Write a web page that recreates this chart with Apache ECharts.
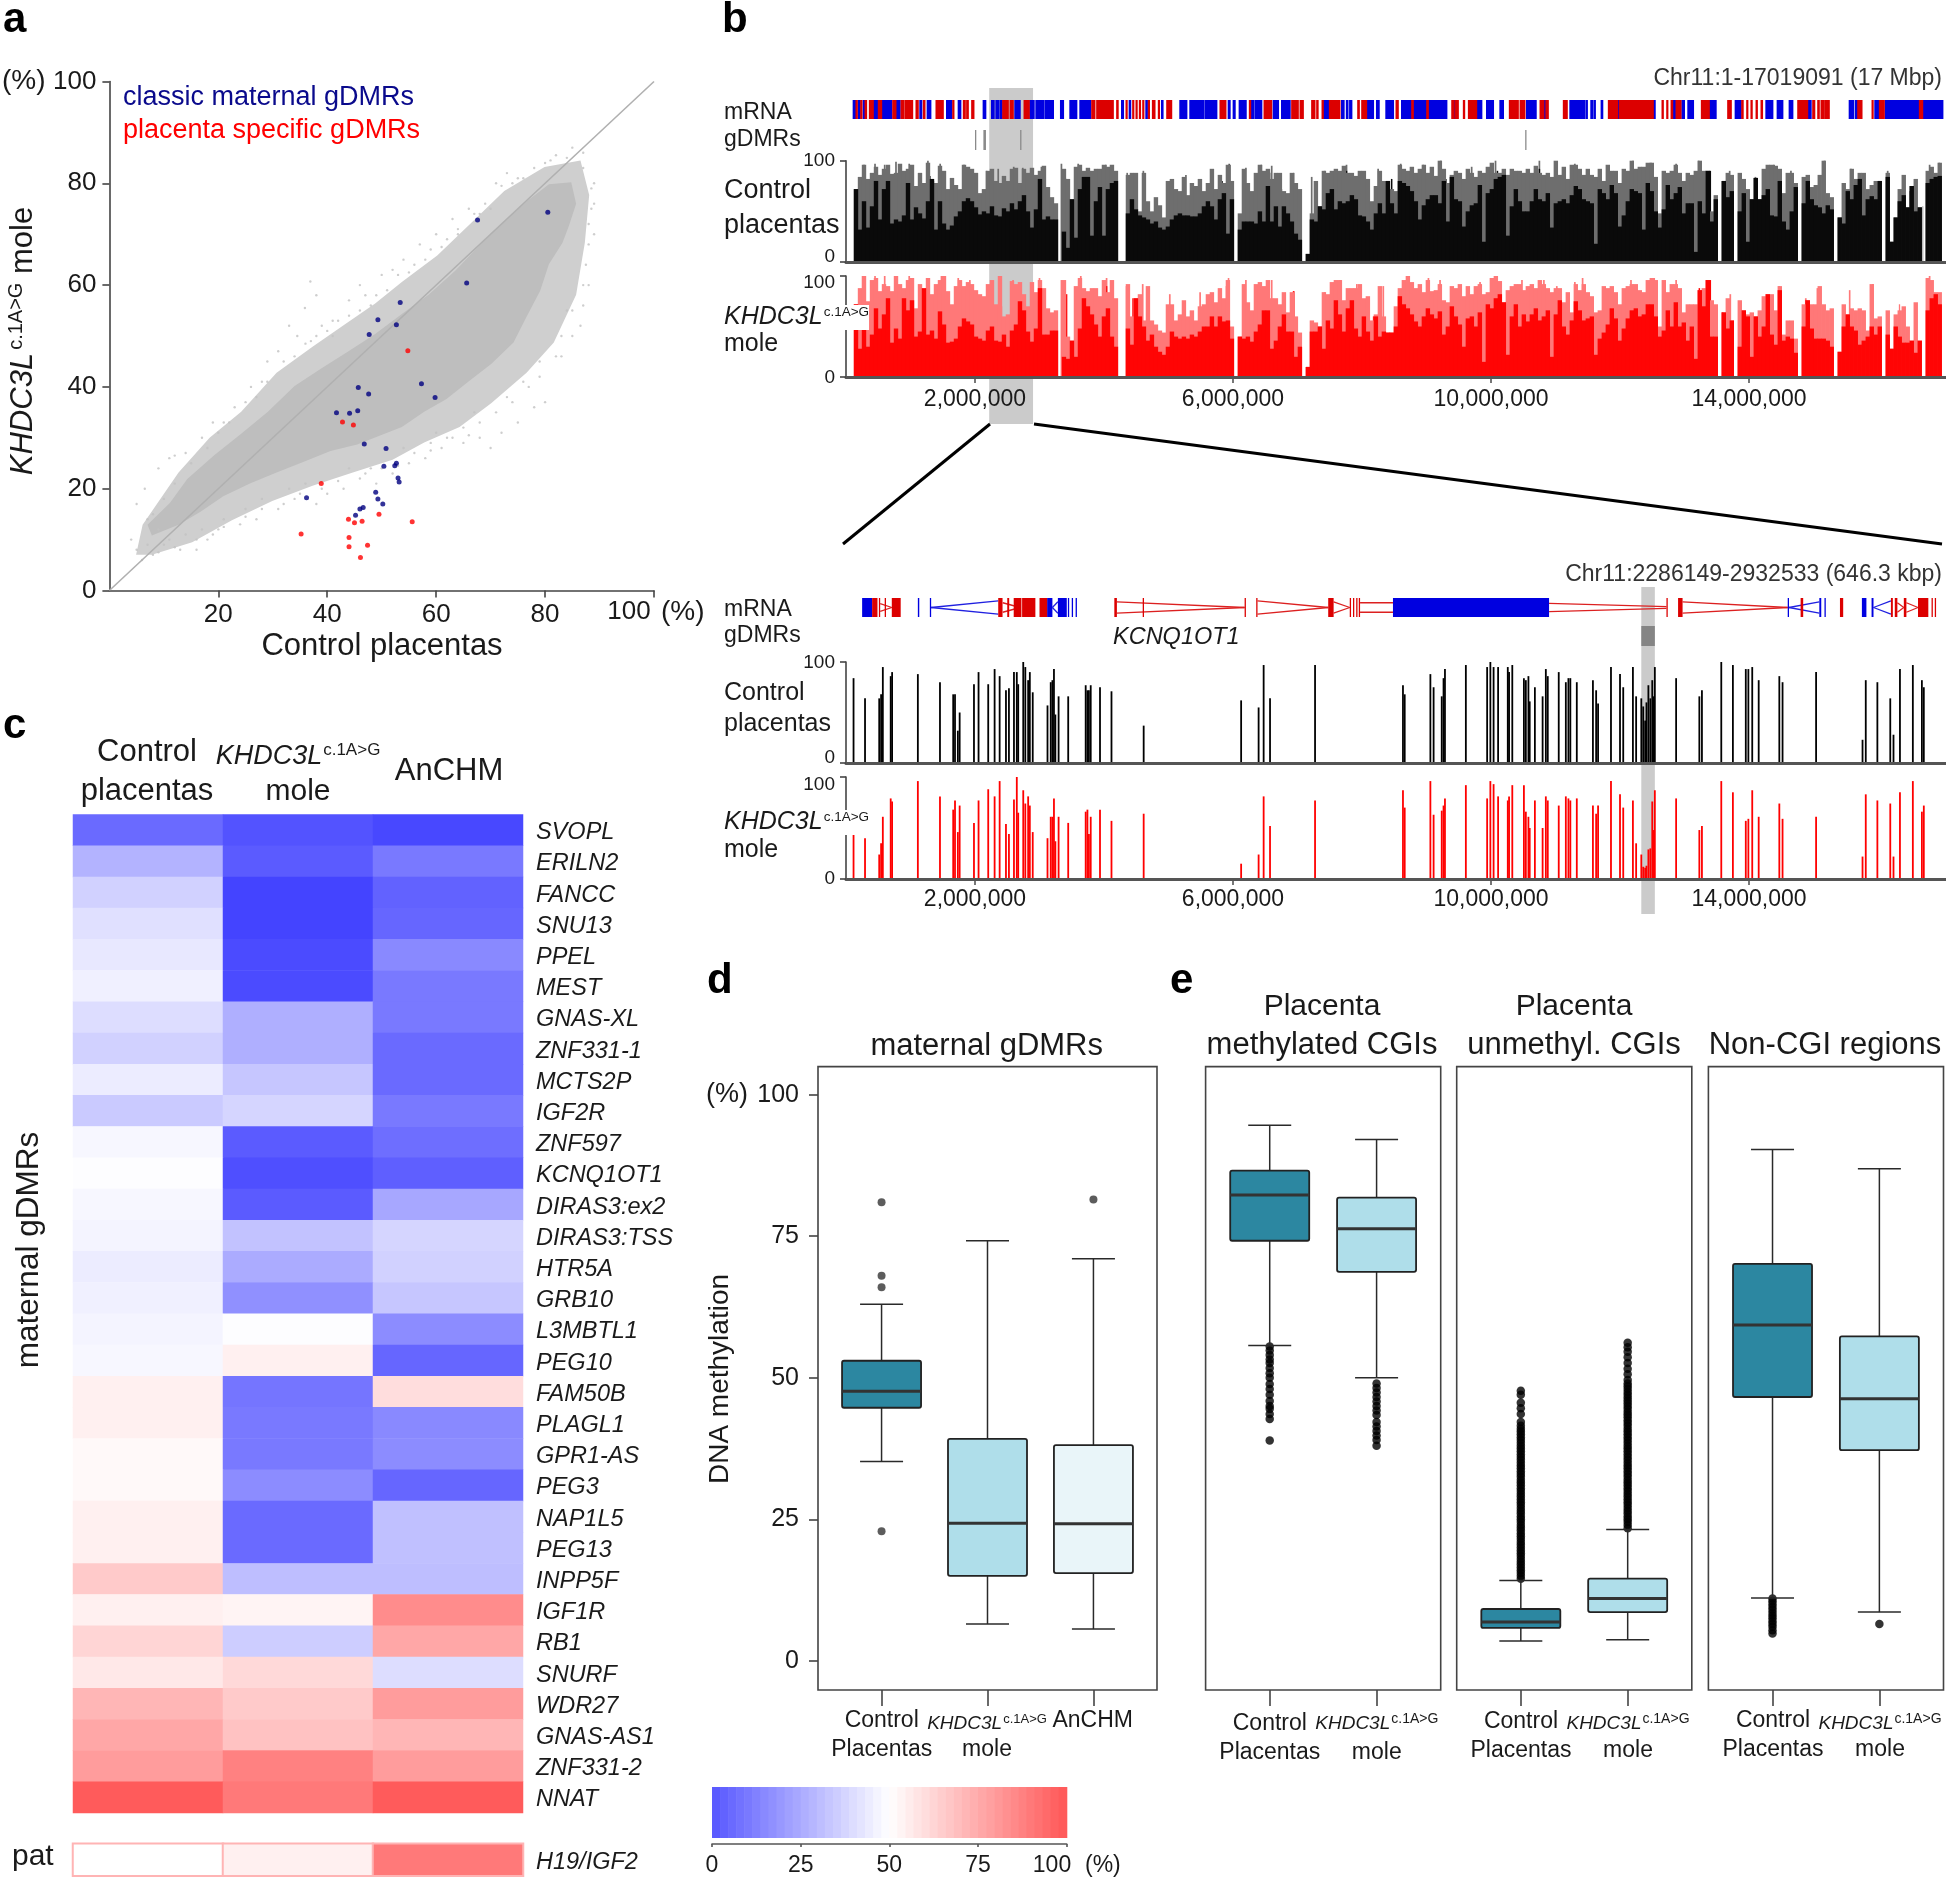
<!DOCTYPE html>
<html><head><meta charset="utf-8">
<style>html,body{margin:0;padding:0;background:#fff}#c{width:1946px;height:1878px}</style>
<script src="https://cdn.jsdelivr.net/npm/echarts@6/dist/echarts.min.js"></script>
</head><body><div id="c"></div>
<script>
// ---------- panel a ----------
const scatterTicks=[20,40,60,80,100];
const scatterXLabels=[20,40,60,80];
const scatterYTicks=[0,20,40,60,80,100];
const diagonal=[[0,0],[100,100]];
const cloudCore=[[7,12.9],[11.1,17.2],[14.3,21.9],[19.3,26.6],[24.2,30.8],[29.1,35.1],[34,40.2],[38.9,43.6],[43.9,47],[48.8,50.4],[53.7,54.3],[58.6,58.1],[63.5,62.8],[68.4,68.3],[72.5,72.6],[76.6,76.4],[80.7,79.8],[84.8,80.2],[85.7,76],[84.4,71.7],[83.2,68.3],[80.7,64.1],[79.1,58.9],[76.6,53.8],[74.2,48.7],[70.1,44.5],[66,41.1],[61.9,37.6],[57.8,35.1],[53.7,32.1],[49.6,30.4],[45.5,28.7],[40.6,27.4],[35.7,25.3],[30.7,23.2],[25.8,21],[20.9,18.5],[16.8,15.5],[12.7,12.9],[7.8,10.8]];
const cloudFringe=[[4.9,7],[6.1,12.9],[12.7,23.2],[18.4,30],[24.2,35.1],[30.7,42.8],[37.3,47.9],[43,52.1],[48.8,56.4],[53.7,60.6],[60.2,65.8],[66.8,72.6],[72.5,78.5],[79.9,83.2],[86.5,84.5],[88.1,77.7],[87.3,68.3],[85.7,58.1],[81.6,48.7],[76.6,42.8],[70.1,36.8],[64.3,32.1],[57.8,29.1],[52,25.7],[44.7,23.2],[37.3,20.6],[29.9,17.6],[22.5,13.8],[15.2,9.5],[7.8,7]];
const cloudOutliers=[[36.9,60.7],[35.9,55.5],[33,52],[38,58],[31,47],[29,45],[34.5,50],[28,41],[26,40],[23,36],[21,33],[19,33],[17,30],[14,27],[12,26.5],[11,26],[9,24],[6.5,20],[5,17],[4,10],[5,8],[6,6],[7,14],[8,7],[10,9],[13,8],[16,8],[18,10],[20,12],[24,13],[27,14],[31,16],[34,18],[38,17],[40,19],[43,20],[46,22],[49,21],[52,23],[55,25],[58,26],[61,28],[65,29],[68,30],[70,28],[72,31],[75,33],[78,36],[80,37],[83,46],[85,50],[86.5,52],[87,56],[88,60],[89,70],[88.5,75],[89,80],[87,86],[85,87],[82,85.5],[80,84],[76,81],[74,80],[70,75],[68,74],[64,71],[62,69],[59,67],[56,64],[52,63],[47,58],[48,56],[44,57],[41,53],[39,52],[41,50],[37,49],[46,60],[50,62],[54,65],[57,68],[60,70],[63,73],[66,75],[71,80],[73,82],[65,32],[62,30],[60,31],[67,35],[73,38],[76,41],[79,45],[84,55],[59,29],[54,28],[48,24],[44,24],[36,21],[33,20],[28,18],[25,16],[21,14],[17,12],[14,11],[11,10],[9,12],[7,9],
[8,15],[10,18],[12,21],[15,25],[18,28],[20,31],[22,33],[25,37],[27,38],[29,41],[32,45],[34,46],[36,48.5],[38,50],[40,51],[42,53],[44,54],[46,55],[49,58],[51,59],[53,62],[55,62.5],[58,65],[61,67.5],[64,70],[67,74],[69,76],[72,79.5],[75,81],[78,83],[81,84.5],[84,85],[87,83],[88.5,79],[89,76],[88,72],[88,68],[87.5,64],[87,60],[85,55],[83,50],[82,46],[79,42],[77,40],[74,37],[71,35],[68,33],[66,30.5],[63,30],[59,27.5],[56,27],[53,24.5],[50,24],[47,23],[42,21.5],[39,20],[35,19],[32,17],[28,16],[25,14.5],[21,12.5],[19,11],[16,10],[12,8.5],[9,7.5]];
const classicGdmrs=[[80.5,74.3],[67.6,72.8],[65.6,60.4],[53.4,56.6],[49.3,53.2],[52.7,52.2],[47.7,50.3],[57.3,40.6],[45.7,39.9],[47.6,38.6],[59.8,37.9],[41.7,34.9],[44.1,34.8],[45.6,35.3],[46.8,28.8],[50.8,27.9],[50.4,24.4],[52.7,25],[52.4,24.5],[53,22.1],[53.2,21.3],[48.9,19.3],[49.3,18],[50.2,17],[36.2,18.2],[46,16],[46.6,16.3],[45.2,14.8]];
const placentaGdmrs=[[54.8,47.1],[42.8,33.1],[44.8,32.5],[38.9,21],[43.9,14],[46.4,13.6],[49.5,15],[45,13.3],[55.6,13.5],[35.2,11.1],[44,10.4],[44,8.6],[47.4,8.9],[46.1,6.5]];

// ---------- panel b, whole region ----------
const genomeTicks=[2,6,10,14];
const trackTicks=[0,100];
const binStep=0.062;
const controlLight=[0,0,72,
84,96,82,88,94,86,92,96,87,88,97,90,92,96,75,88,78,98,80,78,95,90,72,83,76,72,96,94,92,88,68,72,90,92,80,78,85,80,92,93,78,92,88,93,86,90,95,74,64,
58,0,92,82,62,
94,96,90,93,90,92,92,96,94,96,90,
0,0,
86,88,88,50,88,60,50,64,56,44,80,82,72,70,84,66,78,75,82,70,78,
92,72,86,78,96,80,0,48,92,78,70,88,96,90,92,82,88,88,70,68,88,78,72,0,8,48,80,55,90,88,90,92,90,95,88,88,85,90,90,82,60,75,90,80,80,72,70,96,92,90,94,88,92,96,88,94,85,100,92,78,86,90,88,82,92,88,84,90,88,94,98,88,88,92,86,92,90,90,88,92,88,95,88,86,88,84,100,86,94,82,96,96,
92,86,92,86,84,92,80,96,90,90,78,92,90,100,92,94,94,98,98,84,48,90,88,90,96,88,80,88,86,90,100,90,90,50,66,0,80,88,86,0,88,82,72,62,83,62,92,96,96,95,92,68,88,88,78,0,84,86,74,76,86,100,68,64,0,44,78,72,92,82,88,88,72,76,80,80,0,88,20,44,72,86,54,75,82,54,0,90,94,88,98,0];
const controlDark=[0,0,72,
32,60,34,55,80,42,72,80,38,42,40,46,78,42,54,48,43,60,82,32,60,38,32,36,45,50,60,63,60,54,47,50,48,55,46,45,53,50,58,52,60,66,50,34,52,82,42,45,42,
42,0,30,14,62,
24,72,84,84,26,60,74,26,72,78,80,
0,0,
48,62,52,46,44,42,38,40,34,32,35,42,46,48,46,46,45,45,48,55,60,
55,42,62,68,28,62,0,32,40,40,40,38,50,40,75,40,55,35,55,48,40,28,22,0,8,42,40,55,52,68,72,52,60,58,60,66,62,46,45,40,32,48,58,48,80,58,48,80,78,75,70,60,42,56,62,66,66,58,80,40,84,62,60,35,50,56,58,76,20,68,72,82,84,86,26,55,72,60,50,50,60,72,62,60,68,34,58,60,62,58,66,75,
72,62,60,58,18,72,68,62,76,68,35,46,60,72,70,68,32,78,70,50,34,52,76,62,68,74,48,58,58,10,60,48,90,40,62,0,80,64,70,0,50,68,20,62,83,62,66,72,46,45,80,40,32,50,74,0,58,80,62,56,54,48,56,52,0,44,38,70,62,76,82,46,62,65,62,80,0,84,20,44,60,66,54,75,50,54,0,78,82,84,85,0];
const moleLight=[0,0,72,
88,100,75,96,98,85,92,90,85,100,92,88,96,98,68,92,78,98,82,92,96,100,85,72,90,96,90,94,92,86,82,80,92,96,72,100,60,62,95,92,94,82,70,94,84,96,88,68,64,
66,0,96,40,36,
90,98,88,85,88,88,80,96,84,96,78,
0,0,
92,60,78,82,56,90,56,52,46,44,72,72,56,62,76,60,66,56,70,72,82,
84,74,88,78,96,50,0,40,92,74,66,92,94,90,96,78,78,72,84,64,84,60,44,0,10,56,54,50,84,82,94,96,96,76,88,88,88,92,78,80,56,62,90,60,44,44,70,88,96,100,94,88,92,84,96,85,86,92,76,74,90,88,92,80,90,82,90,92,82,84,98,100,95,74,86,90,92,92,86,90,92,88,96,92,88,84,88,88,74,84,64,92,
86,92,84,80,64,66,90,88,90,84,72,88,90,92,92,86,84,96,98,96,50,96,84,92,92,88,64,72,72,72,86,88,96,76,72,0,64,78,56,0,76,66,62,64,60,66,80,82,82,66,90,42,56,56,38,0,72,76,72,72,90,72,66,68,0,25,72,62,68,66,68,66,46,92,58,60,0,66,28,62,66,70,50,36,74,36,0,98,96,84,84,0];
const moleDark=[0,0,72,
28,65,30,42,68,48,62,78,34,48,38,78,66,76,40,45,88,42,46,38,65,52,34,35,38,50,58,55,52,40,38,36,46,50,36,35,42,30,46,52,75,66,45,35,48,88,42,42,46,
46,0,20,18,36,
20,48,78,70,62,52,40,60,68,40,30,
0,0,
48,32,78,60,50,36,42,30,25,22,30,45,40,38,40,38,42,40,45,50,50,
60,50,60,55,56,38,0,40,38,40,35,45,52,66,66,28,36,50,62,45,45,20,30,0,10,45,45,50,28,56,48,76,62,45,68,76,48,40,60,45,36,60,40,45,44,44,50,80,72,68,62,55,50,60,68,62,58,65,42,50,70,60,52,30,58,60,50,64,15,72,68,78,82,74,22,60,72,50,62,55,62,68,56,60,66,20,62,76,50,42,56,75,
66,56,58,60,22,38,44,52,68,58,36,48,58,66,68,60,62,72,72,60,40,46,66,50,74,50,54,36,50,18,86,70,96,40,40,0,64,48,56,0,30,66,60,20,60,40,50,82,42,32,86,36,40,38,24,0,50,76,48,38,38,38,36,30,0,25,50,62,50,46,32,36,40,50,42,50,0,42,28,50,40,34,34,36,24,36,0,66,78,82,72,0];
// thin marks within the tracks: [Mb, bottom, top]
const controlSpikes=[[.28,0,96],[.45,0,97],[.6,0,96],[.775,0,99],[.98,0,97],[1.27,0,100],[1.46,0,97],[1.83,0,96],[2.18,0,90],[2.36,0,92],[2.6,0,94],[2.74,0,93],[3.03,0,94],[3.34,0,97],[3.6,0,97],[4.03,0,96],[4.12,0,95],[4.36,0,88],[4.61,0,90],[5.02,0,80],[5.27,0,86],[5.94,0,97],[6.2,0,93],[6.44,0,96],[6.6,0,95],[6.94,0,88],[7.22,0,84],[7.42,0,90],[7.76,0,96],[8.25,0,92],[8.6,0,97],[8.95,0,96],[9.22,0,100],[9.7,0,94],[10.07,0,100],[10.75,0,100],[11.3,0,97],[12.2,0,100],[12.48,0,98],[12.87,0,97],[13.22,0,100],[13.7,0,90],[14.1,0,84],[14.39,0,96],[14.65,0,90],[15.17,0,100],[15.58,0,92],[16.15,0,90],[16.8,0,96],[16.95,0,98]];
const controlDarkSpikes=[[.37,0,75],[.63,0,85],[.97,0,80],[1.3,0,85],[1.85,0,65],[2.65,0,75],[3.0,0,85],[3.42,0,82],[3.7,0,85],[4.04,0,82],[4.2,0,78],[4.45,0,80],[5.0,0,78],[5.83,0,80],[5.95,0,96],[6.52,0,85],[6.75,0,72],[7.42,0,70],[7.76,0,90],[8.46,0,82],[9.3,0,82],[10.1,0,90],[10.75,0,92],[12.27,0,82],[12.76,0,84],[13.4,0,90],[13.75,0,85],[14.1,0,82],[14.72,0,78],[16.0,0,80],[16.5,0,70],[16.7,0,55]];
const controlNotches=[[.19,30,60],[.32,40,60],[.73,40,72],[1.07,42,62],[1.53,30,55],[2.13,40,60],[2.41,42,56],[2.85,30,55],[6.57,32,88],[6.99,20,55],[7.87,25,75],[8.56,25,70],[8.95,30,60],[9.28,18,45],[9.34,35,60],[9.6,30,55],[10.27,28,50],[10.73,30,60],[11.62,18,55],[11.83,35,62],[13.18,10,80],[12.38,30,60],[14.18,30,62],[14.36,25,50],[14.52,30,45],[15.04,30,50]];
const moleSpikes=[[.26,0,100],[.45,0,100],[.6,0,100],[.78,0,100],[.98,0,100],[1.28,0,98],[1.48,0,100],[1.74,0,98],[1.92,0,96],[2.38,0,100],[2.59,0,96],[3.0,0,98],[3.34,0,96],[3.64,0,100],[4.04,0,98],[4.35,0,90],[4.6,0,92],[5.02,0,82],[5.49,0,84],[5.93,0,98],[6.2,0,96],[6.6,0,96],[6.94,0,85],[7.42,0,84],[7.66,0,96],[7.92,0,92],[8.33,0,90],[8.72,0,100],[9.03,0,98],[9.21,0,96],[9.83,0,94],[10.08,0,100],[10.48,0,96],[10.82,0,96],[11.02,0,90],[11.3,0,94],[11.42,0,98],[12.17,0,96],[12.53,0,98],[12.87,0,96],[13.37,0,96],[13.71,0,82],[14.47,0,90],[14.88,0,78],[15.06,0,88],[15.56,0,86],[15.92,0,92],[16.33,0,72],[16.8,0,100]];
const moleDarkSpikes=[[.47,0,75],[.66,0,80],[.99,0,82],[1.46,0,72],[1.82,0,60],[2.72,0,80],[3.0,0,88],[3.42,0,82],[3.63,0,90],[4.04,0,90],[4.45,0,78],[5.9,0,90],[6.52,0,82],[6.94,0,85],[7.63,0,78],[7.81,0,85],[8.18,0,60],[8.72,0,88],[9.26,0,70],[10.1,0,82],[10.77,0,76],[13.23,0,88],[13.4,0,96],[13.59,0,64],[14.47,0,85],[14.88,0,76],[15.09,0,72],[16.85,0,80]];
const moleNotches=[[.22,25,60],[1.1,35,60],[1.53,30,55],[2.03,32,60],[2.41,40,70],[3.0,30,60],[4.17,40,65],[6.57,28,60],[7.87,28,55],[9.28,22,50],[9.6,30,55],[9.91,16,45],[10.27,22,50],[11.63,20,60],[13.18,18,70]];
const thinGaps=[4.0,4.14,4.39,4.5,4.71,4.79,5.07,5.9,8.42,10.23,10.95,11.12,13.9,14.05,14.19,14.7,15.53,16.22,16.31,16.7];
const highlightTop=[[2.22,2.9]];
const gdmrTop=[[2.0,2.02],[2.13,2.17],[2.7,2.72],[10.53,10.55]];
const geneBlueTop=[[.114,.155],[.191,.217],[.269,.295],[.424,.501],[.568,.62],[.63,.708],[.786,.837],[1.147,1.173],[1.261,1.313],[1.561,1.638],[1.742,1.778],[2.129,2.165],[2.258,2.295],[2.326,2.362],[2.388,2.419],[2.62,2.698],[2.853,2.915],[2.946,3.059],[3.085,3.214],[3.328,3.37],[3.473,3.576],[3.628,3.793],[4.274,4.3],[4.393,4.41],[4.651,4.67],[4.894,4.91],[5.178,5.282],[5.333,5.54],[5.566,5.643],
[5.643,5.747],[5.928,5.953],[6.005,6.031],[6.098,6.202],[6.289,6.315],[6.341,6.444],[6.625,6.703],[6.755,6.884],[7.401,7.478],[7.685,7.72],[7.76,7.78],[7.81,7.84],[8.072,8.176],[8.227,8.264],[8.372,8.486],[8.615,8.77],[8.796,9.003],[9.029,9.313],[9.43,9.45],[9.778,9.855],[9.933,10.036],[10.14,10.191],[10.553,10.698],[10.82,10.85],[11.225,11.38],
[11.38,11.447],[11.473,11.49],[11.55,11.57],[11.597,11.61],[11.71,11.73],[11.964,11.99],[12.517,12.543],[12.817,12.868],[12.961,12.997],[13.054,13.137],[13.385,13.488],[13.788,13.876],[14.264,14.367],[14.439,14.522],[14.625,14.677],[14.91,14.961],[15.556,15.618],[15.649,15.685],[15.953,16.021],[16.114,16.486],[16.5,16.641],[16.693,16.873],[16.873,17.003]];
const geneRedTop=[[.155,.176],[.227,.248],[.295,.32],[.362,.424],[.501,.553],[.724,.775],[.853,.899],[.915,1.034],[1.085,1.121],[1.199,1.225],[1.395,1.509],[1.654,1.674],[1.819,1.85],[1.87,1.897],[1.948,1.984],[2.429,2.517],[2.543,2.594],[2.76,2.842],[3.809,3.86],[3.886,4.145],[4.196,4.22],[4.341,4.36],[4.444,4.46],[4.496,4.51],[4.548,4.56],[4.6,4.61],[4.687,4.7],[4.75,4.791],[4.842,4.86],[4.972,5.05],
[5.798,5.891],[6.253,6.274],[6.481,6.6],[6.909,7.013],[7.039,7.091],[7.219,7.271],[7.297,7.32],[7.38,7.401],[7.494,7.659],[7.933,7.959],[7.995,8.072],[8.527,8.563],[8.77,8.796],[9.003,9.029],[9.391,9.43],[9.45,9.494],[9.571,9.592],[9.649,9.778],[10.284,10.424],[10.45,10.527],[10.76,10.82],[10.85,10.889],[11.121,11.183],
[11.819,11.964],[11.99,12.517],[12.651,12.672],[12.724,12.74],[12.791,12.817],[12.868,12.946],[13.261,13.385],[13.669,13.726],[13.886,13.91],[13.964,13.98],[14.03,14.05],[14.109,14.13],[14.186,14.21],[14.755,14.91],[14.987,15.02],[15.065,15.09],[15.116,15.168],[15.183,15.245],[15.685,15.752],[15.907,15.925],[16.021,16.098],[16.641,16.693]];

// ---------- panel b, zoomed region ----------
const highlightLow=[[12.33,12.54]];
const gdmrLow=[[12.33,12.54]];
const geneBlueLow=[[.25,.405],[1.114,1.136],[1.3,1.32],[3.118,3.2],[3.285,3.423],[3.44,3.46],[3.5,3.52],[3.56,3.58],[8.48,10.9],[14.6,14.62],[15.09,15.12],[15.17,15.19],[15.75,15.82],[15.9,15.93]];
const geneRedLow=[[.405,.488],[.51,.53],[.6,.62],[.71,.848],[2.36,2.427],[2.5,2.53],[2.6,2.72],[2.73,2.936],[3.0,3.118],[4.16,4.2],[4.6,4.62],[6.18,6.2],[6.36,6.38],[7.476,7.56],[7.81,7.83],[7.86,7.88],[7.91,7.93],[7.95,7.97],[12.72,12.74],[12.9,12.97],[14.8,14.84],[15.41,15.46],[16.2,16.23],[16.26,16.3],[16.4,16.44],[16.62,16.78],[16.83,16.85],[16.88,16.9]];
const linkRedLow=[[4.2,.8,6.18,.5],[4.2,.2,6.18,.5],[6.38,.85,7.476,.5],[6.38,.15,7.476,.5],[7.56,.8,7.81,.5],[7.56,.2,7.81,.5],[7.97,.75,8.48,.75],[7.97,.25,8.48,.25],[10.9,.72,12.72,.55],[10.9,.28,12.72,.45],[12.97,.8,14.6,.5],[12.97,.2,14.6,.5],[2.43,.75,2.7,.5],[2.43,.25,2.7,.5],[.53,.7,.71,.5],[.53,.3,.71,.5],[16.3,.75,16.4,.5],[16.3,.25,16.4,.5],[16.44,.75,16.62,.5],[16.44,.25,16.62,.5]];
const linkBlueLow=[[1.32,.5,2.36,.85],[1.32,.5,2.36,.15],[14.62,.5,15.09,.8],[14.62,.5,15.09,.2],[15.93,.5,16.2,.85],[15.93,.5,16.2,.15],[3.2,.5,3.285,.8],[3.2,.5,3.285,.2]];
const peakPos=[.117,.295,.515,.544,.571,.693,.715,1.114,1.457,1.662,1.69,1.734,1.762,1.984,2.055,2.205,2.304,2.382,2.48,2.526,2.604,2.648,2.67,2.748,2.78,2.824,2.85,2.895,3.124,3.174,3.2,3.224,3.246,3.296,3.445,3.716,3.743,3.766,3.794,3.938,4.116,4.615,6.126,6.397,6.475,6.574,7.272,
8.635,8.662,9.06,9.11,9.236,9.264,9.286,9.61,9.94,9.99,10.04,10.11,10.26,10.28,10.33,10.51,10.54,10.58,10.6,10.68,10.8,10.85,10.88,11.05,11.16,11.2,11.23,11.33,11.58,11.63,11.66,11.86,12.0,12.05,12.2,12.25,
12.33,12.36,12.39,12.41,12.44,12.47,12.5,12.52,12.54,12.87,13.23,13.27,13.57,13.75,13.95,13.99,14.05,14.15,14.47,14.52,15.04,15.76,15.81,15.99,16.19,16.24,16.34,16.54,16.68,16.71];
const peakControl=[84,64,64,68,95,86,90,88,80,68,68,32,50,78,90,78,93,86,72,74,90,90,78,100,95,82,90,70,57,80,82,93,48,66,66,77,72,72,77,75,71,37,62,55,97,64,97,
77,68,88,75,66,84,93,97,95,100,95,95,95,90,97,84,82,86,61,75,66,93,86,90,80,84,84,80,82,72,59,95,88,75,95,66,
64,56,42,60,77,64,82,66,95,84,66,72,100,97,93,93,95,82,86,80,90,23,82,80,64,28,93,97,82,75];
const peakMole=[51,40,24,35,61,79,76,96,81,68,77,46,72,55,77,88,81,96,54,44,78,100,65,87,74,81,72,46,40,61,61,79,37,61,55,66,68,44,61,68,57,64,15,24,81,52,77,
87,70,96,63,67,72,79,92,79,96,93,81,77,81,92,92,66,61,50,77,50,81,77,72,81,79,77,79,72,64,72,96,83,70,77,35,
24,12,11,13,29,30,76,48,87,79,48,52,96,85,57,59,87,61,74,59,61,22,83,77,74,22,85,96,66,72];

// ---------- panel c ----------
const heatColumns=['Control placentas','KHDC3L mole','AnCHM'];
const heatRows=['SVOPL','ERILN2','FANCC','SNU13','PPEL','MEST','GNAS-XL','ZNF331-1','MCTS2P','IGF2R','ZNF597','KCNQ1OT1','DIRAS3:ex2','DIRAS3:TSS','HTR5A','GRB10','L3MBTL1','PEG10','FAM50B','PLAGL1','GPR1-AS','PEG3','NAP1L5','PEG13','INPP5F','IGF1R','RB1','SNURF','WDR27','GNAS-AS1','ZNF331-2','NNAT'];
const heatControl=[11,30,38,42,44,46,41,38,45,36,48,49.5,48,47,45,46,47,48,54,54,51.5,51.5,54,54,64,54,61,56,69,73,76,93];
const heatMole=[5,7,1,1,3,3,29,29,35,39,7,4,7,34,28,21,49.5,54,14,15,15,20,11,11,33,53,37,60,64,66,83,85];
const heatAnchm=[2,15,9,10,19,15,15,11,11,15,12,8,27,39,38,35,20,10,59,19,20,10,33.5,33.5,33,80,73,41,76,69,76,93];
const patRows=['H19/IGF2'];
const patValues=[50,54,85];
const colorbarLevels=[7,9,11,13,15,17,19,21,23,25,27,29,31,33,35,37,39,41,43,45,47,49,51,53,55,57,59,61,63,65,67,69,71,73,75,77,79,81,83,85,87,89,91,93];
const colorbarTicks=[0,25,50,75,100];
const colorbarLabels=[0,25,50,75];

// ---------- panels d, e ----------
const methTicks=[0,25,50,75,100];
const maternalBoxes=[[1,35.2,44.7,47.6,53,63],[2,6.5,15,24.3,39.2,74.2],[3,5.6,15.5,24.2,38.1,71]];
const maternalOutliers=[[1,81],[1,68],[1,66],[1,22.9],[3,81.5]];
const methylBoxes=[[1,55.7,74.2,82.3,86.6,94.6],[2,50,68.7,76.3,81.8,92.1]];
const unmethBoxes=[[1,3.5,5.8,6.85,9.15,14.2],[2,3.7,8.6,11,14.5,23.2]];
const nonCgiBoxes=[[1,11.1,46.6,59.3,70.1,90.3],[2,8.6,37.2,46.3,57.3,86.9]];
const methylCtrlOut=[55.5,54.8,54,53.2,52.6,51.7,50.8,50,48.9,48,47,45.9,45,44.5,43.6,42.7,38.9];
const methylMoleOut=[49,48.2,47.4,46.6,45.8,45,44.2,43.4,42.2,41.4,40.6,39.8,39,38];
const unmethCtrlOut=[47.7,47,45.6,44.6,43.6,42.2,41.5,41,40.5,40,39.5,39,38.5,38,37.5,37,36.5,36,35.5,35,34.5,34,33.5,33,32.5,32,31.5,31,30.5,30,29.5,29,28.5,28,27.5,27,26.5,26,25.5,25,24.5,24,23.5,23,22.5,22,21.5,21,20.5,20,19.5,19,18.5,18,17.5,17,16.5,16,15.5,15,14.5];
const unmethMoleOut=[56.2,55.4,54.6,53.6,52.6,51.6,50.6,49.6,49,48.5,48,47.5,47,46.5,46,45.5,45,44.5,44,43.5,43,42.5,42,41.5,41,40.5,40,39.5,39,38.5,38,37.5,37,36.5,36,35.5,35,34.5,34,33.5,33,32.5,32,31.5,31,30.5,30,29.5,29,28.5,28,27.5,27,26.5,26,25.5,25,24.5,24,23.4];
const nonCgiCtrlOut=[11,10.5,10,9.5,9,8.5,8,7.5,7,6.5,6,5.4,4.8];
const nonCgiMoleOut=[6.5];

const FONT='"Liberation Sans",Arial,sans-serif';
const INK='#1a1a1a', AX='#444', TEXT_DY=2.5;
const grids=[],xAxes=[],yAxes=[],series=[],gfx=[];

function addGrid(l,t,w,h,frame){
  grids.push({left:l,top:t,width:w,height:h,containLabel:false,show:!!frame,borderColor:AX,borderWidth:1.6,backgroundColor:'transparent'});
  return grids.length-1;
}
function hiddenAxis(g,min,max,extra){return Object.assign({type:'value',gridIndex:g,min,max,show:false,splitLine:{show:false}},extra||{});}
function tickAxis(g,min,max,values,opt){
  opt=opt||{};
  return {type:'value',gridIndex:g,min,max,z:3,splitLine:{show:false},offset:opt.offset||0,
    axisLine:{show:opt.line!==false,onZero:false,lineStyle:{color:opt.lineColor||AX,width:opt.lineWidth||1.6}},
    axisTick:{show:opt.tick!==false,customValues:values,length:opt.tickLen||6,lineStyle:{color:opt.lineColor||AX,width:1.6}},
    axisLabel:{show:opt.label!==false,customValues:opt.labels||values,color:INK,fontSize:opt.size||18,fontFamily:FONT,margin:opt.margin||5,formatter:opt.fmt,hideOverlap:false,showMinLabel:true,showMaxLabel:true}};
}
function add(g,s){s.xAxisIndex=g;s.yAxisIndex=g;s.silent=true;series.push(s);return series.length-1;}

// Text helpers (labels only; every mark comes from the arrays above)
function T(x,y,text,o){o=o||{};
  const rot=o.rot||0;
  gfx.push({type:'text',x:rot?x+TEXT_DY:x,y:rot?y:y+TEXT_DY,z:100,silent:true,rotation:rot,style:{text,fill:o.color||INK,fontSize:o.size||23,fontFamily:FONT,fontStyle:o.italic?'italic':'normal',fontWeight:o.bold?'bold':'normal',align:o.align||'left',verticalAlign:'middle',rich:o.rich}});
}
function KH(x,y,size,sup,o){o=o||{};
  const rich={k:{fontSize:size,fontStyle:'italic',fontFamily:FONT,fill:INK,color:INK},
    s:{fontSize:sup,fontFamily:FONT,fill:INK,color:INK,padding:[0,0,Math.round(size*.42),o.gap==null?1:o.gap],backgroundColor:o.bg||'transparent'},
    m:{fontSize:o.moleSize||size,fontFamily:FONT,fill:INK,color:INK}};
  T(x,y,'{k|KHDC3L}{s|c.1A>G}'+(o.mole?'{m| mole}':''),{align:o.align||'center',rot:o.rot,size,rich});
}

// ---------- a ----------
{const g=addGrid(109.4,81.5,544.6,509);
 xAxes.push(tickAxis(g,0,100,scatterTicks,{labels:scatterXLabels,size:26,tickLen:7,margin:11}));
 yAxes.push(tickAxis(g,0,100,scatterYTicks,{size:26,tickLen:7,margin:13}));
 const poly=(pts,fill)=>({type:'custom',coordinateSystem:'cartesian2d',data:pts,renderItem:(p,api)=>{
   if(p.dataIndex!==0)return null;
   return {type:'polygon',shape:{points:pts.map(q=>api.coord(q))},style:{fill}};}});
 add(g,poly(cloudFringe,'#cfcfcf'));
 add(g,poly(cloudCore,'#bebebe'));
 add(g,{type:'scatter',data:cloudOutliers,symbolSize:2.4,itemStyle:{color:'#c2c2c2'}});
 add(g,{type:'line',data:diagonal,showSymbol:false,lineStyle:{color:'#b0b0b0',width:1.6}});
 add(g,{type:'scatter',data:classicGdmrs,symbolSize:5,itemStyle:{color:'#00007f'},z:5});
 add(g,{type:'scatter',data:placentaGdmrs,symbolSize:5,itemStyle:{color:'#ff0000'},z:5});
}

// ---------- b ----------
const GL=846,GW=1100,GMAX=17.054;
function spans(g,data,fill,z,halo){
  const h=halo||0;
  return add(g,{type:'custom',coordinateSystem:'cartesian2d',data,z:z||2,clip:false,renderItem:(p,api)=>{
    const a=api.coord([api.value(0),1]),b=api.coord([api.value(1),0]);
    return {type:'rect',shape:{x:a[0]-h,y:a[1],width:Math.max(b[0]-a[0],1.2)+2*h,height:b[1]-a[1]},style:{fill}};}});
}
function links(g,data,stroke){
  return add(g,{type:'custom',coordinateSystem:'cartesian2d',data,clip:false,renderItem:(p,api)=>{
    const a=api.coord([api.value(0),api.value(1)]),b=api.coord([api.value(2),api.value(3)]);
    return {type:'line',shape:{x1:a[0],y1:a[1],x2:b[0],y2:b[1]},style:{stroke,lineWidth:1.3}};}});
}
function thinBars(g,data,fill,w){
  return add(g,{type:'custom',coordinateSystem:'cartesian2d',data,renderItem:(p,api)=>{
    const a=api.coord([api.value(0),api.value(2)]),b=api.coord([api.value(0),api.value(1)]);
    return {type:'rect',shape:{x:a[0]-w/2,y:a[1],width:w,height:b[1]-a[1]},style:{fill}};}});
}
function flatGrid(t,h){const g=addGrid(GL,t,GW,h);xAxes.push(hiddenAxis(g,0,GMAX));yAxes.push(hiddenAxis(g,0,1));return g;}
spans(flatGrid(88,336),highlightTop,'#cbcbcb',1);
spans(flatGrid(587,327),highlightLow,'#cbcbcb',1);
{const g=flatGrid(100,19);spans(g,geneBlueTop,'#0000e0',2,.7);spans(g,geneRedTop,'#dc0000',2,.5);}
spans(flatGrid(130,20),gdmrTop,'#8a8a8a');
spans(flatGrid(626,20),gdmrLow,'#858585');
{const g=flatGrid(598,19);links(g,linkRedLow,'#dc2020');links(g,linkBlueLow,'#2020e0');spans(g,geneBlueLow,'#0000e0');spans(g,geneRedLow,'#dc0000');}

const pairs=a=>a.map((v,i)=>[(i+.5)*binStep,v]);
const zeroPct=[];
const genomeFmt=v=>(v*1e6).toLocaleString('en-US');
function track(t,h,xt,lightData,darkData,spikeData,darkSpikeData,notchData,lightC,darkC){
  const g=addGrid(GL,t,GW,h);
  xAxes.push(tickAxis(g,0,GMAX,xt?genomeTicks:zeroPct,{label:!!xt,tick:!!xt,size:23,lineColor:'#555',lineWidth:3,tickLen:6,margin:11.5,fmt:genomeFmt}));
  yAxes.push(tickAxis(g,0,100,trackTicks,{label:false,tickLen:6}));
  add(g,{type:'bar',data:pairs(lightData),barWidth:4.4,barGap:'-100%',itemStyle:{color:lightC}});
  thinBars(g,spikeData,lightC,1.7);
  add(g,{type:'bar',data:pairs(darkData),barWidth:4.4,barGap:'-100%',itemStyle:{color:darkC}});
  thinBars(g,darkSpikeData,darkC,1.5);
  thinBars(g,notchData,lightC,1.5);
  thinBars(g,thinGaps.map(v=>[v,0,100]),'#fff',1.4);
}
track(160.7,101.3,false,controlLight,controlDark,controlSpikes,controlDarkSpikes,controlNotches,'#6e6e6e','#0a0a0a');
track(276,101,true,moleLight,moleDark,moleSpikes,moleDarkSpikes,moleNotches,'#ff7878','#ff0505');
function peakTrack(t,h,xt,vals,color){
  const g=addGrid(GL,t,GW,h);
  xAxes.push(tickAxis(g,0,GMAX,xt?genomeTicks:zeroPct,{label:!!xt,tick:!!xt,size:23,lineColor:'#555',lineWidth:3,tickLen:6,margin:9,fmt:genomeFmt}));
  yAxes.push(tickAxis(g,0,100,trackTicks,{label:false,tickLen:6}));
  add(g,{type:'bar',data:peakPos.map((p,i)=>[p,vals[i]]),barWidth:1.8,itemStyle:{color}});
}
peakTrack(662,101,false,peakControl,'#000');
peakTrack(777,102,true,peakMole,'#f00');

// ---------- c ----------
const VM=[];
function rowText(g,names){
  add(g,{type:'custom',coordinateSystem:'cartesian2d',z:6,clip:false,data:names.map((n,i)=>[2,i]),renderItem:(p,api)=>{
    const c=api.coord([api.value(0),api.value(1)]),s=api.size([1,1]);
    return {type:'text',x:c[0]+s[0]/2+13,y:c[1]+TEXT_DY,style:{text:names[p.dataIndex],fill:INK,fontSize:23.5,fontStyle:'italic',fontFamily:FONT,align:'left',verticalAlign:'middle'}};}});
}
{const g=addGrid(73,814.5,450,998.5);
 xAxes.push({type:'category',gridIndex:g,data:heatColumns,show:false});
 yAxes.push({type:'category',gridIndex:g,data:heatRows,inverse:true,show:false});
 const d=[];heatRows.forEach((r,i)=>{d.push([0,i,heatControl[i]],[1,i,heatMole[i]],[2,i,heatAnchm[i]]);});
 VM.push(add(g,{type:'heatmap',data:d}));
 rowText(g,heatRows);
}
{const g=addGrid(73,1843.7,450,32);
 xAxes.push({type:'category',gridIndex:g,data:heatColumns,show:false});
 yAxes.push({type:'category',gridIndex:g,data:patRows,show:false});
 VM.push(add(g,{type:'heatmap',data:patValues.map((v,i)=>[i,0,v]),itemStyle:{borderColor:'#ffb4b4',borderWidth:2}}));
 rowText(g,patRows);
}
{const g=addGrid(712,1787,354.7,51);
 xAxes.push(tickAxis(g,0,100,colorbarTicks,{labels:colorbarLabels,size:23,tickLen:3,margin:10.5,offset:6,lineColor:'#555'}));
 yAxes.push(hiddenAxis(g,0,1));
 const n=colorbarLevels.length;
 VM.push(add(g,{type:'custom',coordinateSystem:'cartesian2d',data:colorbarLevels.map((v,i)=>[i*100/n,(i+1)*100/n,v]),renderItem:(p,api)=>{
   const a=api.coord([api.value(0),1]),b=api.coord([api.value(1),0]);
   return {type:'rect',shape:{x:a[0],y:a[1],width:b[0]-a[0]+.6,height:b[1]-a[1]},style:{fill:api.visual('color')}};}}));
}

// ---------- d, e ----------
const FILLS={d:['#2c87a1','#afdeea','#e9f5f9'],e:['#2c87a1','#afdeea']};
function boxPanel(l,w,xmax,boxes,fills,outliers,showY){
  const g=addGrid(l,1066.6,w,623.4,true);
  xAxes.push(tickAxis(g,.4,xmax,boxes.map(b=>b[0]),{label:false,line:false,tickLen:16}));
  yAxes.push(tickAxis(g,-5.16,104.96,methTicks,{label:showY,tick:showY,line:false,size:25,tickLen:9,margin:19}));
  add(g,{type:'custom',coordinateSystem:'cartesian2d',data:boxes,renderItem:(p,api)=>{
    const x=api.value(0),P=v=>api.coord([x,v]);
    const lo=P(api.value(1)),q1=P(api.value(2)),med=P(api.value(3)),q3=P(api.value(4)),hi=P(api.value(5));
    const cx=lo[0],bw=79,cw=43;
    const st={stroke:'#2a2a2a',lineWidth:1.5,fill:null};
    const L=(x1,y1,x2,y2,s)=>({type:'line',shape:{x1,y1,x2,y2},style:s||st});
    return {type:'group',children:[
      L(cx,lo[1],cx,q1[1]),L(cx,q3[1],cx,hi[1]),
      L(cx-cw/2,lo[1],cx+cw/2,lo[1]),L(cx-cw/2,hi[1],cx+cw/2,hi[1]),
      {type:'rect',shape:{x:cx-bw/2,y:q3[1],width:bw,height:q1[1]-q3[1],r:2},style:{fill:fills[p.dataIndex],stroke:'#222',lineWidth:1.8}},
      L(cx-bw/2,med[1],cx+bw/2,med[1],{stroke:'#333',lineWidth:3})]};}});
  add(g,{type:'scatter',data:outliers,symbolSize:showY?8:8.5,itemStyle:{color:showY?'#333':'#000'},z:1});
}
boxPanel(818,339,3.6,maternalBoxes,FILLS.d,maternalOutliers,true);
const withX=(x,a)=>a.map(v=>[x,v]);
boxPanel(1205.6,235.1,2.6,methylBoxes,FILLS.e,withX(1,methylCtrlOut).concat(withX(2,methylMoleOut)),false);
boxPanel(1456.7,235.1,2.6,unmethBoxes,FILLS.e,withX(1,unmethCtrlOut).concat(withX(2,unmethMoleOut)),false);
boxPanel(1708.4,235.1,2.6,nonCgiBoxes,FILLS.e,withX(1,nonCgiCtrlOut).concat(withX(2,nonCgiMoleOut)),false);

// ---------- text ----------
const LET={size:42,bold:true,color:'#000'};
T(3,18,'a',LET);T(722,17.7,'b',LET);T(3,724.2,'c',LET);T(707,979,'d',LET);T(1170,979.3,'e',LET);
// a
T(2,79,'(%)',{size:28});
T(629,609.5,'100',{size:26,align:'center'});
T(661,609.5,'(%)',{size:28});
T(382,644,'Control placentas',{size:31,align:'center'});
T(123,95,'classic maternal gDMRs',{size:27,color:'#0a0a8c'});
T(123,128,'placenta specific gDMRs',{size:27,color:'#ff0000'});
KH(20.5,341,31,20,{mole:true,rot:Math.PI/2,moleSize:31,gap:3});
// b upper
T(1942,76,'Chr11:1-17019091 (17 Mbp)',{size:23,align:'right',color:'#333'});
T(724,110,'mRNA',{size:23});T(724,137,'gDMRs',{size:23});
T(724,188,'Control',{size:27});T(724,223,'placentas',{size:27});
KH(724,315,25,13.5,{align:'left',bg:'#fff'});T(724,342,'mole',{size:25});
[[835,158.5,'100'],[835,254.5,'0'],[835,280.5,'100'],[835,375.5,'0'],[835,660,'100'],[835,755.5,'0'],[835,782.5,'100'],[835,876.5,'0']].forEach(a=>T(a[0],a[1],a[2],{size:19,align:'right'}));
// b lower
T(1942,572,'Chr11:2286149-2932533 (646.3 kbp)',{size:23,align:'right',color:'#333'});
T(724,607,'mRNA',{size:23});T(724,633,'gDMRs',{size:23});
T(1113,635,'KCNQ1OT1',{size:23.5,italic:true});
T(724,691,'Control',{size:25});T(724,722,'placentas',{size:25});
KH(724,820,25,13.5,{align:'left',bg:'#fff'});T(724,848,'mole',{size:25});
gfx.push({type:'line',z:50,silent:true,shape:{x1:990,y1:424,x2:843,y2:544},style:{stroke:'#000',lineWidth:3}});
gfx.push({type:'line',z:50,silent:true,shape:{x1:1034,y1:424,x2:1942,y2:544},style:{stroke:'#000',lineWidth:3}});
// c
T(147,750,'Control',{size:31,align:'center'});T(147,789,'placentas',{size:31,align:'center'});
KH(298,753.5,27,17);T(298,789.5,'mole',{size:30,align:'center'});
T(449,768.5,'AnCHM',{size:31,align:'center'});
T(27,1250,'maternal gDMRs',{size:31.5,align:'center',rot:Math.PI/2});
T(12,1854,'pat',{size:30});
// d
T(986.7,1043.5,'maternal gDMRs',{size:31,align:'center'});
T(706,1092,'(%)',{size:27});
T(718,1379,'DNA methylation',{size:28,align:'center',rot:Math.PI/2});
T(881.7,1718,'Control',{size:23,align:'center'});T(881.7,1747,'Placentas',{size:23,align:'center'});
KH(987,1721,19,13);T(987,1747,'mole',{size:23,align:'center'});
T(1092.7,1718,'AnCHM',{size:23,align:'center'});
T(1085,1863.5,'(%)',{size:23});
T(1052,1863.5,'100',{size:23,align:'center'});
// e
T(1322,1004.5,'Placenta',{size:30,align:'center'});T(1322,1042.5,'methylated CGIs',{size:31,align:'center'});
T(1574,1004.5,'Placenta',{size:30,align:'center'});T(1574,1042.5,'unmethyl. CGIs',{size:31,align:'center'});
T(1825,1042.5,'Non-CGI regions',{size:31,align:'center'});
[[1269.8,1721,1750],[1521,1719,1748],[1773,1718,1747]].forEach(p=>{
  T(p[0],p[1],'Control',{size:23,align:'center'});T(p[0],p[2],'Placentas',{size:23,align:'center'});
  KH(p[0]+107,1721,19,14);T(p[0]+107,p[2],'mole',{size:23,align:'center'});
});

const chart=echarts.init(document.getElementById('c'),null,{renderer:'canvas'});
chart.setOption({animation:false,backgroundColor:'#fff',grid:grids,xAxis:xAxes,yAxis:yAxes,series,
  visualMap:[{type:'continuous',show:false,min:0,max:100,dimension:2,seriesIndex:VM,inRange:{color:['#4040ff','#ffffff','#ff4040']}}],
  graphic:{elements:gfx}});
</script></body></html>
